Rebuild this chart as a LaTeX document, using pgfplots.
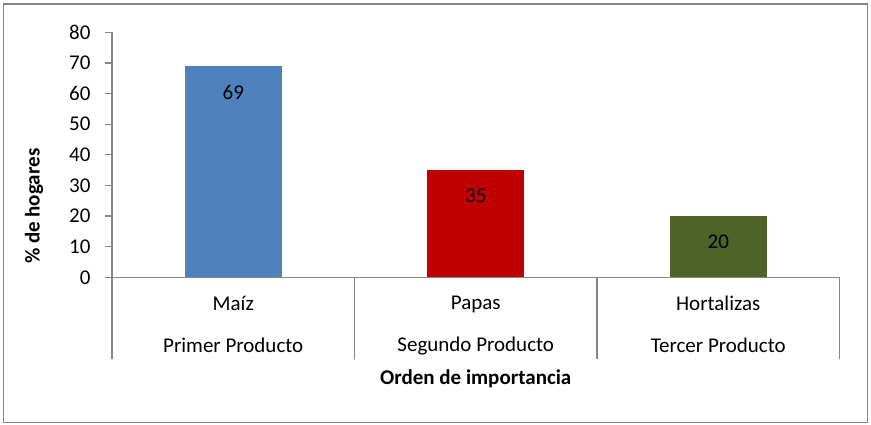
\documentclass[border=0pt]{standalone}
\usepackage{pgfplots}
\pgfplotsset{compat=1.18}
\usepackage{fontspec}
\setmainfont{Carlito}
\definecolor{axgray}{RGB}{134,134,134}
\definecolor{cblue}{RGB}{79,129,189}
\definecolor{cred}{RGB}{192,0,0}
\definecolor{cgreen}{RGB}{79,98,40}
\newcommand{\ff}{\fontsize{21}{25}\selectfont}
\begin{document}
\begin{tikzpicture}[x=1pt,y=1pt]
\path (0,0) rectangle (871,424);
\draw[axgray,line width=1.3pt] (3.5,1.5) rectangle (867.5,420);
\begin{axis}[
  at={(112pt,146.7pt)}, anchor=origin,
  scale only axis, width=727.5pt, height=245pt,
  xmin=0, xmax=3, ymin=0, ymax=80,
  axis lines*=left,
  axis line style={axgray, line width=1.3pt, -},
  font=\ff,
  ytick={0,10,...,80},
  /pgf/number format/assume math mode=true,
  yticklabel style={font=\ff, xshift=-11pt},
  major tick length=7pt,
  tick align=outside,
  ytick style={draw=axgray, line width=1.3pt},
  xtick={0.5,1.5,2.5},
  xtick style={draw=none},
  xticklabels={{Maíz\\[17pt]Primer Producto},{Papas\\[17pt]Segundo Producto},{Hortalizas\\[17pt]Tercer Producto}},
  xticklabel style={align=center, font=\ff, yshift=-8pt},
  extra x ticks={0,1,2,3},
  extra x tick labels={},
  extra x tick style={major tick length=82pt, tick align=outside, xtick style={draw=axgray, line width=1.3pt}},
  xlabel={\textbf{Orden de importancia}},
  xlabel style={at={(axis description cs:0.5,-0.415)}, anchor=center, font=\ff},
  ylabel={\textbf{\% de hogares}},
  ylabel style={at={(axis description cs:-0.107,0.29)}, anchor=center, font=\ff},
  ybar,
  bar width=0.4,
  nodes near coords,
  every node near coord/.append style={anchor=center, yshift=-26pt, font=\ff, text=black},
  clip=false,
]
\addplot[fill=cblue, draw=none, bar shift=0pt] coordinates {(0.5,69)};
\addplot[fill=cred, draw=none, bar shift=0pt] coordinates {(1.5,35)};
\addplot[fill=cgreen, draw=none, bar shift=0pt] coordinates {(2.5,20)};
\end{axis}
\end{tikzpicture}
\end{document}
